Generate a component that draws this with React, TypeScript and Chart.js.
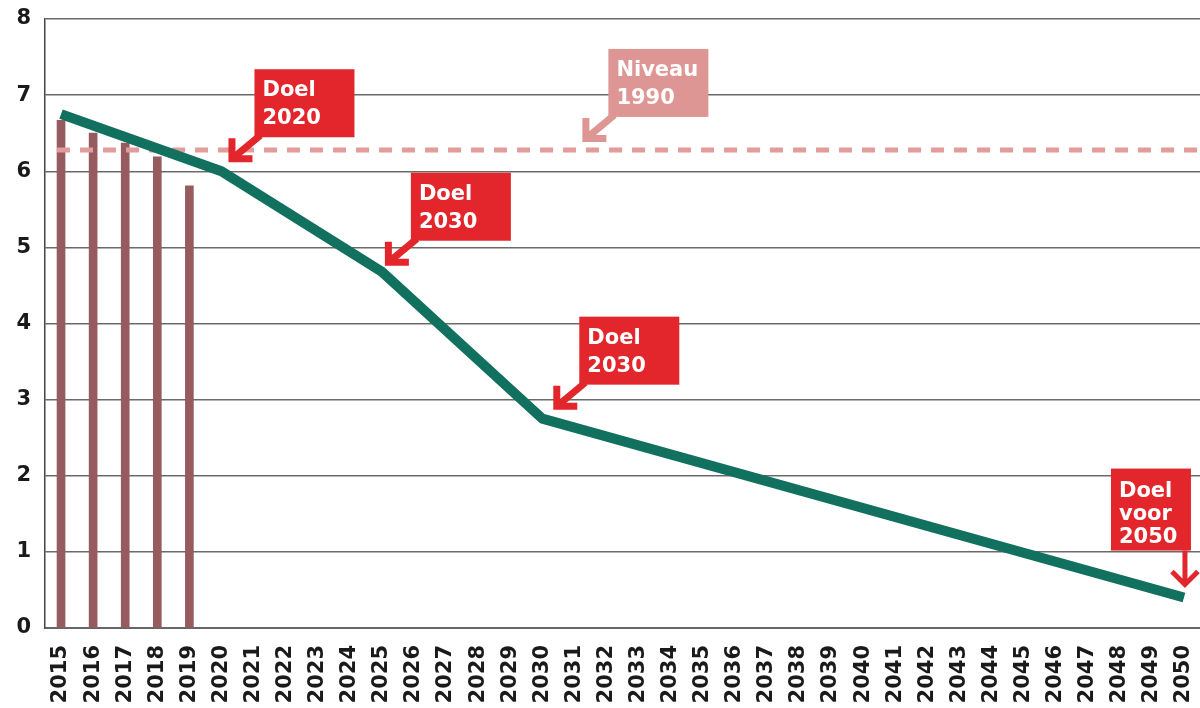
import React, { useEffect, useRef } from "react";
import { Chart, registerables } from "chart.js";

Chart.register(...registerables);

// ---- data ----
const years = [
  "2015", "2016", "2017", "2018", "2019", "2020", "2021", "2022", "2023",
  "2024", "2025", "2026", "2027", "2028", "2029", "2030", "2031", "2032",
  "2033", "2034", "2035", "2036", "2037", "2038", "2039", "2040", "2041",
  "2042", "2043", "2044", "2045", "2046", "2047", "2048", "2049", "2050",
];
const measuredYears = ["2015", "2016", "2017", "2018", "2019"];
const measuredValues = [6.67, 6.5, 6.37, 6.19, 5.81];
const pathYears = ["2015", "2020", "2025", "2030", "2050"];
const pathValues = [6.75, 6.0, 4.68, 2.75, 0.4];
const level1990 = 6.28;
const yTicks = [0, 1, 2, 3, 4, 5, 6, 7, 8];

const RED = "#e3262b";
const PINK = "#de9694";

const annotations = [
  { lines: ["Doel", "2020"], year: "2020", value: 6.0, color: RED, kind: "diag", dx: 7, dy: -9 },
  { lines: ["Niveau", "1990"], year: "2031", value: level1990, color: PINK, kind: "diag", dx: 8, dy: -8 },
  { lines: ["Doel", "2030"], year: "2025", value: 4.68, color: RED, kind: "diag", dx: 3, dy: -6 },
  { lines: ["Doel", "2030"], year: "2030", value: 2.75, color: RED, kind: "diag", dx: 11, dy: -9 },
  { lines: ["Doel", "voor", "2050"], year: "2050", value: 0.4, color: RED, kind: "down", dx: 1, dy: -11 },
];

const TICK_FONT = "'DejaVu Sans', Arial, sans-serif";

const overlayPlugin = {
  id: "overlay",
  beforeDatasetDraw(chart: any, args: any) {
    if (args.meta.type !== "line") return;
    const ctx = chart.ctx;
    const xs = chart.scales.x;
    const ys = chart.scales.y;
    const y = ys.getPixelForValue(level1990);
    const x0 = xs.getPixelForValue(0) - 4;
    ctx.save();
    ctx.strokeStyle = "#e29c9a";
    ctx.lineWidth = 5;
    ctx.setLineDash([13, 10]);
    ctx.beginPath();
    ctx.moveTo(x0, y);
    ctx.lineTo(chart.chartArea.right, y);
    ctx.stroke();
    ctx.restore();
  },
  afterDraw(chart: any) {
    const ctx = chart.ctx;
    const xs = chart.scales.x;
    const ys = chart.scales.y;
    ctx.save();
    for (const a of annotations) {
      const px = xs.getPixelForValue(years.indexOf(a.year));
      const py = ys.getPixelForValue(a.value);
      const tx = px + a.dx;
      const ty = py + a.dy;
      ctx.strokeStyle = a.color;
      ctx.fillStyle = a.color;
      ctx.lineWidth = 7;
      ctx.lineJoin = "miter";
      ctx.lineCap = "butt";
      let bx: number, by: number, bw: number, bh: number, lh: number, firstBase: number;
      if (a.kind === "diag") {
        bw = 100; bh = 68; lh = 28; firstBase = 27;
        bx = tx + 26; by = ty - 25 - bh;
        ctx.beginPath();
        ctx.moveTo(tx + 3, ty - 3);
        ctx.lineTo(bx + 6, by + bh - 2);
        ctx.stroke();
        ctx.beginPath();
        ctx.moveTo(tx + 3.5, ty - 24);
        ctx.lineTo(tx + 3.5, ty - 3.5);
        ctx.lineTo(tx + 24, ty - 3.5);
        ctx.stroke();
      } else {
        bw = 80; bh = 82; lh = 23; firstBase = 28;
        bx = tx + 6 - bw; by = ty - 36 - bh;
        ctx.lineWidth = 5;
        ctx.beginPath();
        ctx.moveTo(tx, by + bh);
        ctx.lineTo(tx, ty - 2);
        ctx.stroke();
        ctx.beginPath();
        ctx.moveTo(tx - 13, ty - 15);
        ctx.lineTo(tx, ty - 2);
        ctx.lineTo(tx + 13, ty - 15);
        ctx.stroke();
      }
      ctx.fillRect(bx, by, bw, bh);
      ctx.fillStyle = "#ffffff";
      ctx.font = "bold 21px 'DejaVu Sans', sans-serif";
      ctx.textAlign = "left";
      ctx.textBaseline = "alphabetic";
      a.lines.forEach((t, i) => {
        ctx.fillText(t, bx + 8, by + firstBase + i * lh);
      });
    }
    ctx.restore();
  },
};

export default function App() {
  const ref = useRef<HTMLCanvasElement | null>(null);
  useEffect(() => {
    if (!ref.current) return;
    const chart = new Chart(ref.current, {
      type: "bar",
      data: {
        labels: years,
        datasets: [
          {
            type: "line",
            label: "Doelpad",
            data: pathYears.map((y, i) => ({ x: y, y: pathValues[i] })),
            borderColor: "#12705f",
            borderWidth: 10,
            pointRadius: 0,
            borderCapStyle: "butt",
            borderJoinStyle: "round",
            tension: 0,
            order: 0,
          } as any,
          {
            type: "bar",
            label: "Uitstoot",
            data: measuredYears.map((y, i) => ({ x: y, y: measuredValues[i] })),
            backgroundColor: "#955b5f",
            barThickness: 8,
            order: 1,
          } as any,
        ],
      },
      options: {
        animation: false,
        responsive: false,
        devicePixelRatio: 1,
        layout: { padding: { top: 19, left: 17, right: 0, bottom: 0 } },
        plugins: { legend: { display: false }, tooltip: { enabled: false } },
        scales: {
          x: {
            offset: true,
            grid: { display: false, drawTicks: false },
            border: { display: true, color: "#666666", width: 2 },
            afterFit: (s: any) => {
              s.paddingLeft = 0;
              s.paddingRight = 0;
              s.height = 80;
            },
            ticks: {
              autoSkip: false,
              minRotation: 90,
              maxRotation: 90,
              padding: 17,
              color: "#1a1a1a",
              font: { family: TICK_FONT, size: 21, weight: "bold" },
            },
          },
          y: {
            min: 0,
            max: 8,
            afterBuildTicks: (scale: any) => {
              scale.ticks = yTicks.map((v) => ({ value: v }));
            },
            afterFit: (s: any) => {
              s.paddingTop = 0;
              s.paddingBottom = 0;
              s.width = 28;
            },
            grid: { color: "#6a6a6a", lineWidth: 1.5, drawTicks: false },
            border: { display: true, color: "#444444", width: 1.5 },
            ticks: {
              padding: 14,
              color: "#1a1a1a",
              font: { family: TICK_FONT, size: 21, weight: "bold" },
            },
          },
        },
      },
      plugins: [overlayPlugin],
    });
    return () => chart.destroy();
  }, []);
  return (
    <div style={{ position: "absolute", left: 0, top: 0, width: 1200, height: 708, background: "#fff" }}>
      <canvas ref={ref} width={1200} height={708} />
    </div>
  );
}
